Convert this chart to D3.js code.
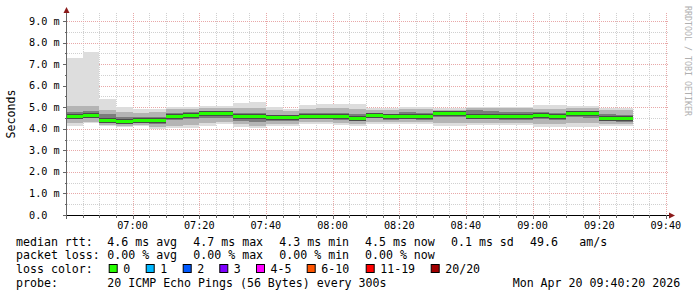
<!DOCTYPE html>
<html lang="en">
<head>
<meta charset="utf-8">
<title>smokeping</title>
<script src="https://cdn.jsdelivr.net/npm/d3@7"></script>
<style>
  body { margin: 0; background: #ffffff; }
  svg { display: block; }
  text { font-family: "DejaVu Sans Mono", monospace; fill: #000; }
</style>
</head>
<body>
<svg id="chart"></svg>
<script>
// step start times (5 min steps)
var steps = ["06:40","06:45","06:50","06:55","07:00","07:05","07:10","07:15","07:20","07:25",
             "07:30","07:35","07:40","07:45","07:50","07:55","08:00","08:05","08:10","08:15",
             "08:20","08:25","08:30","08:35","08:40","08:45","08:50","08:55","09:00","09:05",
             "09:10","09:15","09:20","09:25"];

// rtt values in ms
var median = [4.59,4.64,4.38,4.33,4.39,4.39,4.59,4.64,4.69,4.69,4.58,4.56,4.52,4.52,4.58,4.58,4.55,
              4.50,4.63,4.56,4.58,4.55,4.69,4.70,4.59,4.59,4.56,4.56,4.63,4.58,4.69,4.69,4.50,4.47];
var smokeMax = [7.30,7.58,5.37,5.00,4.92,4.90,5.00,5.03,5.07,5.07,5.21,5.26,5.00,4.92,5.10,5.15,5.15,
                5.13,4.98,4.98,5.03,5.03,4.96,4.96,5.03,5.03,5.03,5.03,5.10,5.10,5.06,5.06,4.98,4.98];
var smokeMin = [4.13,4.25,4.13,4.10,4.13,3.98,4.02,4.02,4.13,4.22,4.07,4.02,4.13,4.13,4.22,4.22,4.18,
                4.13,4.22,4.22,4.22,4.22,4.13,4.13,4.18,4.18,4.18,4.18,4.07,4.07,4.07,4.07,4.13,4.13];
var hi2 = [5.05,5.05,4.88,4.80,4.75,4.78,4.90,4.92,4.95,4.95,4.95,4.98,4.85,4.82,4.92,4.95,4.95,
           4.92,4.85,4.85,4.92,4.92,4.88,4.88,4.95,4.95,4.95,4.95,4.92,4.92,4.95,4.95,4.85,4.85];
var lo2 = [4.25,4.30,4.17,4.15,4.18,4.08,4.15,4.18,4.25,4.30,4.20,4.12,4.22,4.22,4.30,4.30,4.25,
           4.22,4.30,4.30,4.30,4.30,4.25,4.25,4.28,4.28,4.25,4.25,4.22,4.20,4.25,4.25,4.22,4.20];
var hi3 = [4.78,4.82,4.70,4.55,4.55,4.55,4.75,4.78,4.80,4.82,4.72,4.72,4.65,4.62,4.72,4.75,4.72,
           4.68,4.75,4.70,4.78,4.72,4.80,4.80,4.85,4.82,4.80,4.80,4.78,4.75,4.82,4.82,4.70,4.65];
var lo3 = [4.45,4.50,4.25,4.22,4.25,4.20,4.40,4.45,4.50,4.52,4.35,4.30,4.35,4.38,4.45,4.45,4.40,
           4.35,4.48,4.42,4.45,4.42,4.55,4.55,4.45,4.45,4.42,4.42,4.45,4.42,4.55,4.52,4.35,4.32];

var yTicks = [0,1,2,3,4,5,6,7,8,9];
var xLabels = ["07:00","07:20","07:40","08:00","08:20","08:40","09:00","09:20","09:40"];

var lossLabels = ["0","1","2","3","4-5","6-10","11-19","20/20"];
var lossColors = ["#26ff00","#00b8ff","#0059ff","#7e00ff","#ff00ff","#ff5500","#ff0000","#a10000"];

var W = 697, H = 297;
var pLeft = 67, pRight = 667, pTop = 15, pBottom = 215;

var svg = d3.select("#chart").attr("width", W).attr("height", H);
svg.append("rect").attr("width", W).attr("height", H).attr("fill", "#ffffff");

var parse = d3.timeParse("%Y-%m-%d %H:%M:%S");
var day = "2026-04-20 ";
var x = d3.scaleTime()
    .domain([parse(day + "06:40:20"), parse(day + "09:40:20")])
    .range([pLeft, pRight]);
var y = d3.scaleLinear().domain([0, 9.28]).range([pBottom, pTop]);

function t(s) { return parse(day + s + ":00"); }
function tEnd(i) { return d3.timeMinute.offset(t(steps[i]), 5); }

svg.append("defs").append("clipPath").attr("id", "plot")
  .append("rect").attr("x", pLeft).attr("y", pTop - 5).attr("width", pRight - pLeft).attr("height", pBottom - pTop + 5);

// grid
var grid = svg.append("g").attr("shape-rendering", "crispEdges");
var minorX = d3.timeMinute.every(5).range(x.domain()[0], d3.timeMinute.offset(x.domain()[1], 1));
grid.selectAll(".vx").data(minorX).enter().append("line")
  .attr("x1", d => Math.round(x(d)) + 0.5).attr("x2", d => Math.round(x(d)) + 0.5)
  .attr("y1", pTop - 2).attr("y2", pBottom)
  .attr("stroke", d => d.getMinutes() % 20 === 0 ? "#e8a8a8" : "#d0d0d0")
  .attr("stroke-dasharray", "1,1");
var minorY = d3.range(1, 19).map(d => d * 0.5);
grid.selectAll(".hy").data(minorY).enter().append("line")
  .attr("x1", pLeft).attr("x2", pRight + 2)
  .attr("y1", d => Math.round(y(d)) + 0.5).attr("y2", d => Math.round(y(d)) + 0.5)
  .attr("stroke", d => d % 1 === 0 ? "#e8a8a8" : "#d0d0d0")
  .attr("stroke-dasharray", "1,1");

// smoke
var plot = svg.append("g").attr("clip-path", "url(#plot)").attr("shape-rendering", "crispEdges");
var levels = [
  {hi: smokeMax, lo: smokeMin, color: "#dddddd"},
  {hi: hi2, lo: lo2, color: "#b4b4b4"},
  {hi: hi3, lo: lo3, color: "#7c7c7c"}
];
levels.forEach(function (lv) {
  plot.append("g").selectAll("rect").data(steps).enter().append("rect")
    .attr("x", (d, i) => x(t(d)))
    .attr("width", (d, i) => x(tEnd(i)) - x(t(d)))
    .attr("y", (d, i) => y(lv.hi[i]))
    .attr("height", (d, i) => y(lv.lo[i]) - y(lv.hi[i]))
    .attr("fill", lv.color);
});
// dark core around median
plot.append("g").selectAll("rect").data(steps).enter().append("rect")
  .attr("x", (d, i) => x(t(d)))
  .attr("width", (d, i) => x(tEnd(i)) - x(t(d)))
  .attr("y", (d, i) => y(median[i]) - 2.5)
  .attr("height", 5)
  .attr("fill", "#4a4a4a");
// median, coloured by loss (0 loss)
plot.append("g").selectAll("rect").data(steps).enter().append("rect")
  .attr("x", (d, i) => x(t(d)))
  .attr("width", (d, i) => x(tEnd(i)) - x(t(d)))
  .attr("y", (d, i) => y(median[i]) - 1.5)
  .attr("height", 3)
  .attr("fill", lossColors[0]);

// axes
var ax = svg.append("g").attr("shape-rendering", "crispEdges");
ax.append("line").attr("x1", pLeft - 4).attr("x2", pRight + 4).attr("y1", pBottom + 0.5).attr("y2", pBottom + 0.5).attr("stroke", "#000");
ax.append("line").attr("x1", pLeft - 0.5).attr("x2", pLeft - 0.5).attr("y1", pTop - 4).attr("y2", pBottom + 4).attr("stroke", "#666");
ax.selectAll(".yt").data(minorY.concat([0])).enter().append("line")
  .attr("x1", d => d % 1 === 0 ? pLeft - 4 : pLeft - 2).attr("x2", pLeft)
  .attr("y1", d => Math.round(y(d)) + 0.5).attr("y2", d => Math.round(y(d)) + 0.5)
  .attr("stroke", "#666");
ax.selectAll(".xt").data(minorX).enter().append("line")
  .attr("x1", d => Math.round(x(d)) + 0.5).attr("x2", d => Math.round(x(d)) + 0.5)
  .attr("y1", pBottom).attr("y2", d => d.getMinutes() % 20 === 0 ? pBottom + 4 : pBottom + 3)
  .attr("stroke", "#666");
// arrows
svg.append("path").attr("d", `M${pLeft - 0.5},${pTop - 8} L${pLeft - 3.5},${pTop - 2} L${pLeft + 2.5},${pTop - 2} Z`).attr("fill", "#8b1a1a");
svg.append("path").attr("d", `M${pRight + 8},${pBottom + 0.5} L${pRight + 2},${pBottom - 2.5} L${pRight + 2},${pBottom + 3.5} Z`).attr("fill", "#8b1a1a");

// y labels
svg.append("g").selectAll("text").data(yTicks).enter().append("text")
  .attr("x", 29).attr("y", d => y(d) + 3.6)
  .style("font-size", "10.2px")
  .text(d => d === 0 ? "0.0" : d3.format(".1f")(d) + " m");
// x labels
svg.append("g").selectAll("text").data(xLabels).enter().append("text")
  .attr("x", d => x(t(d))).attr("y", 228.7)
  .attr("text-anchor", "middle")
  .style("font-size", "10.2px")
  .text(d => d);

svg.append("text")
  .attr("transform", "translate(15,114) rotate(-90)")
  .attr("text-anchor", "middle")
  .style("font-size", "11.6px")
  .text("Seconds");

svg.append("text")
  .attr("transform", "translate(685,61) rotate(90)")
  .attr("text-anchor", "middle")
  .style("font-size", "8.3px")
  .style("fill", "#b0b0b0")
  .text("RRDTOOL / TOBI OETIKER");

// legend
var legend = svg.append("g").style("font-size", "11.6px");
var rows = [
  [[16, "median rtt:"], [107.3, "4.6 ms avg"], [193.3, "4.7 ms max"], [279.3, "4.3 ms min"],
   [365, "4.5 ms now"], [451, "0.1 ms sd"], [530, "49.6"], [579.3, "am/s"]],
  [[16, "packet loss:"], [107.3, "0.00 % avg"], [193.3, "0.00 % max"], [279.3, "0.00 % min"], [365, "0.00 % now"]],
  [[16, "loss color:"]],
  [[16, "probe:"], [107.3, "20 ICMP Echo Pings (56 Bytes) every 300s"], [512.7, "Mon Apr 20 09:40:20 2026"]]
];
var rowY = [245.5, 259, 273, 286.5];
rows.forEach(function (r, j) {
  legend.selectAll(".r" + j).data(r).enter().append("text")
    .attr("x", d => d[0]).attr("y", rowY[j]).text(d => d[1]);
});
var boxX = [108.7, 145.7, 182.7, 219.3, 256, 306.7, 365.7, 430.7];
var lg = legend.selectAll(".loss").data(lossLabels).enter().append("g");
lg.append("rect")
  .attr("x", (d, i) => boxX[i] + 0.5).attr("y", 264.5)
  .attr("width", 8).attr("height", 8)
  .attr("fill", (d, i) => lossColors[i])
  .attr("stroke", "#000");
lg.append("text")
  .attr("x", (d, i) => boxX[i] + 14.5).attr("y", rowY[2])
  .text(d => d);
</script>
</body>
</html>
